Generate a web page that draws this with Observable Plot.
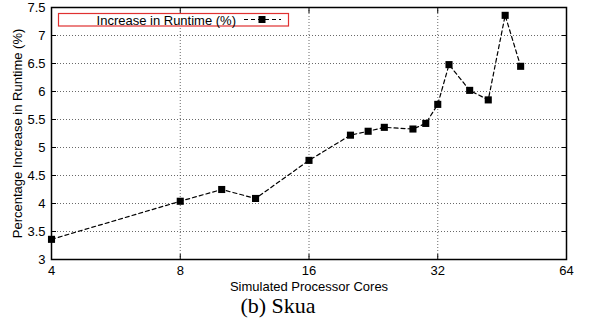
<!DOCTYPE html>
<html>
<head>
<meta charset="utf-8">
<script src="https://cdn.jsdelivr.net/npm/d3@7"></script>
<script src="https://cdn.jsdelivr.net/npm/@observablehq/plot@0.6"></script>
<style>
  html, body { margin: 0; padding: 0; background: #fff; }
  #chart svg { display: block; font-family: "Liberation Sans", Arial, sans-serif; }
</style>
</head>
<body>
<div id="chart"></div>
<script>
const cores = [4, 8, 10, 12, 16, 20, 22, 24, 28, 30, 32, 34, 38, 42, 46, 50];
const increase = [3.36, 4.04, 4.25, 4.09, 4.77, 5.22, 5.29, 5.36, 5.33, 5.43, 5.77, 6.48, 6.02, 5.85, 7.36, 6.45];
const xTicks = [4, 8, 16, 32, 64];
const yTicks = [3, 3.5, 4, 4.5, 5, 5.5, 6, 6.5, 7, 7.5];
const seriesName = "Increase in Runtime (%)";
const xLabel = "Simulated Processor Cores";
const yLabel = "Percentage Increase in Runtime (%)";
const caption = "(b) Skua";

const data = cores.map((c, i) => ({cores: c, value: increase[i]}));

const W = 603, H = 322;
const mL = 51, mR = 37, mT = 7, mB = 63;

const chart = Plot.plot({
  width: W,
  height: H,
  marginLeft: mL,
  marginRight: mR,
  marginTop: mT,
  marginBottom: mB,
  style: {fontFamily: "'Liberation Sans', Arial, sans-serif", fontSize: "13px", color: "#000", background: "#fff"},
  x: {type: "log", base: 2, domain: [4, 64]},
  y: {domain: [3, 7.5]},
  marks: [
    Plot.gridX(xTicks.slice(1, -1), {stroke: "#444", strokeOpacity: 0.8, strokeDasharray: "1,2"}),
    Plot.gridY(yTicks.slice(1, -1), {stroke: "#444", strokeOpacity: 0.8, strokeDasharray: "1,2"}),
    Plot.axisX(xTicks, {anchor: "bottom", tickSize: 0, tickPadding: 6, tickFormat: d => String(d),
      label: xLabel, labelAnchor: "center", labelArrow: "none", labelOffset: 31, fontSize: 13}),
    Plot.axisX(xTicks, {anchor: "bottom", tickSize: -5, tickFormat: () => "", label: null}),
    Plot.axisX(xTicks, {anchor: "top", tickSize: -5, tickFormat: () => "", label: null}),
    Plot.axisY(yTicks, {anchor: "left", tickSize: 0, tickPadding: 6, tickFormat: d => String(d),
      label: yLabel, labelAnchor: "center", labelArrow: "none", labelOffset: 39, fontSize: 13}),
    Plot.axisY(yTicks, {anchor: "left", tickSize: -5, tickFormat: () => "", label: null}),
    Plot.axisY(yTicks, {anchor: "right", tickSize: -5, tickFormat: () => "", label: null}),
    Plot.frame({stroke: "#000", strokeWidth: 1.5}),
    Plot.line(data, {x: "cores", y: "value", stroke: "#000", strokeWidth: 1.2, strokeDasharray: "4,3"}),
    Plot.dot(data, {x: "cores", y: "value", symbol: "square", r: 4, fill: "#000", stroke: "none"}),
    Plot.text([caption], {text: d => d, frameAnchor: "bottom", dx: -31, dy: 46, lineAnchor: "middle",
      fontFamily: "'Liberation Serif', 'Times New Roman', serif", fontSize: 22, fill: "#000"})
  ]
});

// Legend (gnuplot-style boxed key)
const svg = d3.select(chart);
const g = svg.append("g");
g.append("rect").attr("x", 58.5).attr("y", 13.5).attr("width", 230).attr("height", 12.5)
  .attr("fill", "#fff").attr("stroke", "#e03030").attr("stroke-width", 1.2);
g.append("text").attr("x", 236).attr("y", 24.5).attr("text-anchor", "end")
  .attr("font-size", 13).attr("fill", "#000").text(seriesName);
g.append("line").attr("x1", 244).attr("x2", 281).attr("y1", 19.5).attr("y2", 19.5)
  .attr("stroke", "#000").attr("stroke-width", 1.2).attr("stroke-dasharray", "4,3");
g.append("rect").attr("x", 258.5).attr("y", 16).attr("width", 7).attr("height", 7).attr("fill", "#000");

document.getElementById("chart").appendChild(chart);
</script>
</body>
</html>
